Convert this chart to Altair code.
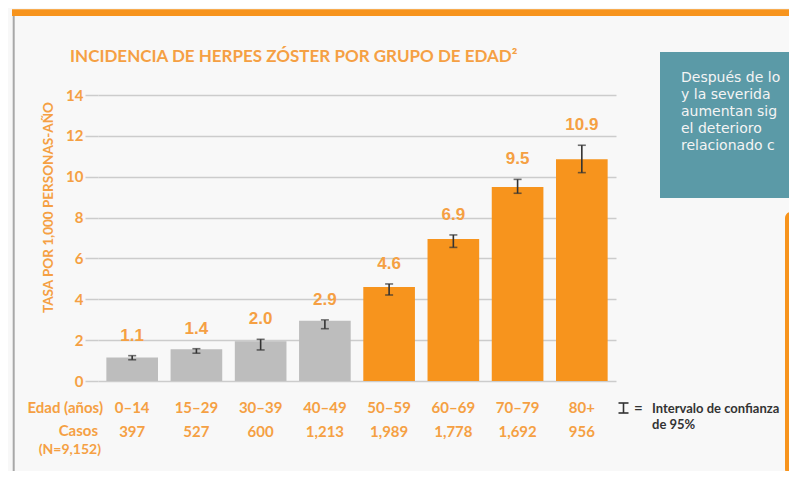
import altair as alt
import pandas as pd

# ---- data ----
groups = ["0–14", "15–29", "30–39", "40–49", "50–59", "60–69", "70–79", "80+"]
bar_rates = [1.15, 1.55, 1.95, 2.95, 4.6, 6.95, 9.5, 10.85]
rate_labels = ["1.1", "1.4", "2.0", "2.9", "4.6", "6.9", "9.5", "10.9"]
ci_low = [1.04, 1.36, 1.52, 2.56, 4.21, 6.54, 9.19, 10.2]
ci_high = [1.24, 1.58, 2.04, 2.99, 4.75, 7.15, 9.87, 11.54]
cases = ["397", "527", "600", "1,213", "1,989", "1,778", "1,692", "956"]
age_band = ["menor de 50"] * 4 + ["50 o más"] * 4
y_ticks = [0, 2, 4, 6, 8, 10, 12, 14]

df = pd.DataFrame({
    "grupo": groups, "tasa": bar_rates, "etiqueta": rate_labels,
    "lo": ci_low, "hi": ci_high, "casos": cases, "banda": age_band,
})

ORANGE = "#f7941d"
GRAY = "#bdbdbd"
TXT_OR = "#f5a043"
DARK = "#333333"
TEAL = "#5b9aa7"
GRID = "#cccccc"
NARROW = "Lato"
YT = "TASA POR 1,000 PERSONAS-AÑO"
W, H = 518, 286

x = alt.X("grupo:N", sort=groups,
          scale=alt.Scale(paddingInner=0.196, paddingOuter=0.13), axis=None)
yscale = alt.Scale(domain=[0, 14])
yaxis = alt.Axis(values=y_ticks, tickSize=13, tickColor=GRID, tickWidth=1.5,
                 domain=False, grid=True, gridColor=GRID, gridWidth=1.5,
                 labelColor=TXT_OR, labelFont=NARROW, labelFontSize=15,
                 labelFontWeight="bold", labelPadding=2,
                 titleColor=TXT_OR, titleFont=NARROW, titleFontSize=13.5,
                 titleFontWeight="bold", titleX=-43, titleY=112,
                 titleAlign="center", titleBaseline="bottom", titleAngle=270)

base = alt.Chart(df)

bars = base.mark_bar().encode(
    x=x,
    y=alt.Y("tasa:Q", scale=yscale, axis=yaxis, title=YT),
    color=alt.Color("banda:N", scale=alt.Scale(domain=["menor de 50", "50 o más"],
                                                range=[GRAY, ORANGE]), legend=None),
)
err = base.mark_rule(color=DARK, strokeWidth=1.6).encode(
    x=x, y=alt.Y("lo:Q", scale=yscale, title=YT), y2="hi:Q")
cap_lo = base.mark_tick(color=DARK, thickness=1.6, size=8).encode(
    x=x, y=alt.Y("lo:Q", scale=yscale, title=YT))
cap_hi = base.mark_tick(color=DARK, thickness=1.6, size=8).encode(
    x=x, y=alt.Y("hi:Q", scale=yscale, title=YT))
vals = base.mark_text(font="Liberation Sans", fontWeight="bold", fontSize=17,
                      color=TXT_OR, baseline="middle", dy=-20).encode(
    x=x, y=alt.Y("hi:Q", scale=yscale, title=YT), text="etiqueta:N")
cat_lbl = base.mark_text(font=NARROW, fontWeight="bold", fontSize=15,
                         color=TXT_OR, baseline="alphabetic").encode(
    x=x, y=alt.value(318), text="grupo:N")
case_lbl = base.mark_text(font=NARROW, fontWeight="bold", fontSize=15,
                          color=TXT_OR, baseline="alphabetic").encode(
    x=x, y=alt.value(342), text="casos:N")

one = alt.Data(values=[{"k": 1}])


def rect(x1, x2, y1, y2, color, **kw):
    return alt.Chart(one).mark_rect(color=color, **kw).encode(
        x=alt.value(x1), x2=alt.value(x2), y=alt.value(y1), y2=alt.value(y2))


def txt(s, xx, yy, **kw):
    return alt.Chart(one).mark_text(baseline="alphabetic", **kw).encode(
        x=alt.value(xx), y=alt.value(yy), text=alt.value(s))


def seg(x1, x2, y1, y2, color, w):
    return alt.Chart(one).mark_rule(color=color, strokeWidth=w).encode(
        x=alt.value(x1), x2=alt.value(x2), y=alt.value(y1), y2=alt.value(y2))


deco = [
    rect(-86, 700, -85.7, -79, ORANGE),
    rect(-85.3, -83.3, -79, 380, "#a8a8a8"),
    rect(562, 700, -43, 103, TEAL),
    rect(687, 700, 117, 380, ORANGE, cornerRadius=6),
]

texts = [
    txt("INCIDENCIA DE HERPES ZÓSTER POR GRUPO DE EDAD²", -28, -33, align="left",
        font=NARROW, fontWeight="bold", fontSize=17, color=TXT_OR),
    txt("Edad (años)", 5, 318, align="right", font=NARROW, fontWeight="bold",
        fontSize=15, color=TXT_OR),
    txt("Casos", 0, 341, align="right", font=NARROW, fontWeight="bold",
        fontSize=15, color=TXT_OR),
    txt("(N=9,152)", 3, 359, align="right", font=NARROW, fontWeight="bold",
        fontSize=14, color=TXT_OR),
    txt("=", 536, 318, align="left", font=NARROW, fontWeight="bold",
        fontSize=15, color=DARK),
    txt("Intervalo de confianza", 554, 318, align="left", font=NARROW,
        fontWeight="bold", fontSize=13, color=DARK),
    txt("de 95%", 554, 334, align="left", font=NARROW, fontWeight="bold",
        fontSize=13, color=DARK),
]
box_lines = ["Después de lo", "y la severida", "aumentan sig",
             "el deterioro", "relacionado c"]
box_base = [-13, 4, 21, 38, 55]
for line, yy in zip(box_lines, box_base):
    texts.append(txt(line, 583, yy, align="left", font="DejaVu Sans",
                     fontSize=14, color="#f4f4f4"))

legend_sym = [
    seg(525.5, 525.5, 308, 318, DARK, 1.6),
    seg(520.5, 530.5, 308, 308, DARK, 1.6),
    seg(520.5, 530.5, 318, 318, DARK, 1.6),
]

chart = alt.layer(
    *deco, bars, err, cap_lo, cap_hi, vals, cat_lbl, case_lbl, *texts, *legend_sym
).properties(
    width=W, height=H,
    autosize=alt.AutoSizeParams(type="none"),
    padding={"left": 90, "top": 87, "right": 173, "bottom": 90},
    background="#f8f8f8",
).configure_view(stroke=None)

chart.save("out.html", embed_options={"renderer": "svg", "actions": False})
